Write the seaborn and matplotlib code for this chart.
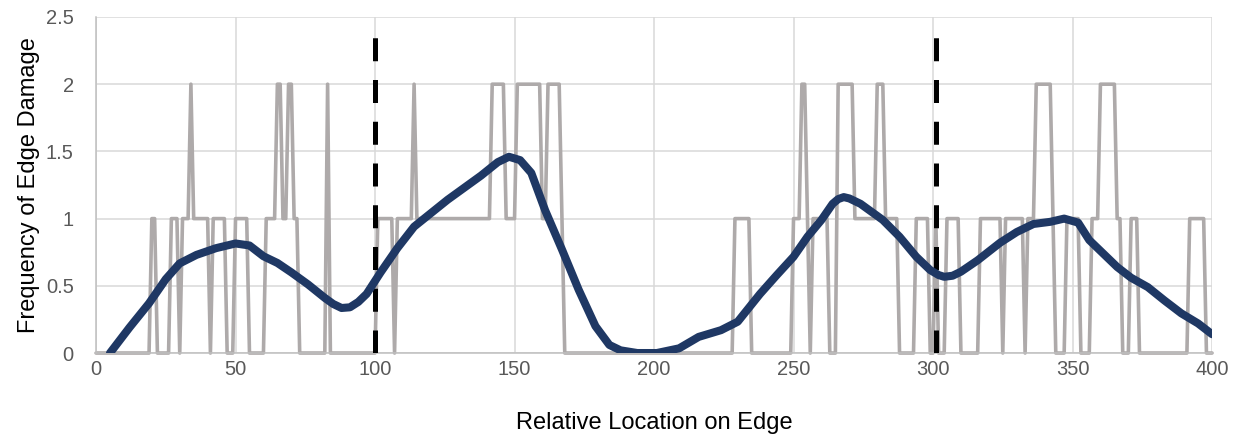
import numpy as np
import pandas as pd
import matplotlib
matplotlib.use("Agg")
import matplotlib.pyplot as plt
import seaborn as sns

# 灰色阶梯线：每个位置（0..400，步长1）的损伤次数，按游程记录
# 每一段从 step_start 开始，取值 step_level，直到下一段开始
step_start = [0, 20, 22, 27, 30, 31, 34, 35, 41, 42, 47, 50, 55, 61, 65, 67, 69, 71, 73,
              83, 84, 101, 107, 108, 114, 115, 142, 147, 151, 160, 162, 167, 168,
              229, 235, 250, 253, 255, 256, 257, 263, 266, 272, 280, 283, 288, 294,
              299, 301, 302, 305, 310, 317, 325, 326, 333, 334, 337, 343, 344, 348,
              353, 357, 360, 366, 368, 371, 374, 392, 398]
step_level = [0, 1, 0, 1, 0, 1, 2, 1, 0, 1, 0, 1, 0, 1, 2, 1, 2, 1, 0,
              2, 0, 1, 0, 1, 2, 1, 2, 1, 2, 1, 2, 1, 0,
              1, 0, 1, 2, 1, 0, 1, 0, 2, 1, 2, 1, 0, 1,
              0, 1, 0, 1, 0, 1, 0, 1, 0, 1, 2, 1, 0, 1,
              0, 1, 2, 1, 0, 1, 0, 1, 0]
edge_end = 400

# 深蓝平滑曲线
smooth_x = [5, 12, 19, 25, 30, 36, 43, 50, 55, 60, 65, 70, 76, 82, 85, 88, 91, 94, 97, 102,
            108, 114, 120, 126, 132, 138, 144, 148, 152, 156, 161, 167, 173, 179, 184, 188,
            194, 201, 209, 216, 224, 230, 238, 244, 250, 255, 260, 264, 266, 268, 270, 274,
            282, 288, 294, 299, 302, 304, 307, 310, 316, 324, 330, 336, 342, 347, 352, 356,
            361, 366, 371, 377, 383, 389, 395, 400]
smooth_y = [0, 0.19, 0.37, 0.55, 0.667, 0.73, 0.78, 0.815, 0.80, 0.72, 0.67, 0.60, 0.51,
            0.41, 0.365, 0.335, 0.34, 0.38, 0.44, 0.60, 0.78, 0.94, 1.04, 1.14, 1.23, 1.32,
            1.42, 1.46, 1.435, 1.34, 1.06, 0.77, 0.47, 0.2, 0.06, 0.02, 0.0, 0.0, 0.035, 0.12,
            0.17, 0.233, 0.44, 0.58, 0.716, 0.865, 0.99, 1.11, 1.145, 1.16, 1.15, 1.11, 0.99,
            0.865, 0.716, 0.617, 0.58, 0.567, 0.575, 0.605, 0.69, 0.82, 0.90, 0.96, 0.976,
            1.0, 0.97, 0.84, 0.74, 0.64, 0.56, 0.49, 0.39, 0.295, 0.22, 0.14]

# 黑色虚线位置
divider_x = [100, 301]
divider_top = 2.37

x_ticks = [0, 50, 100, 150, 200, 250, 300, 350, 400]
y_ticks = [0, 0.5, 1, 1.5, 2, 2.5]
y_tick_labels = ["0", "0.5", "1", "1.5", "2", "2.5"]

# 展开游程
run_len = np.diff(step_start + [edge_end + 1])
step_df = pd.DataFrame({"loc": np.arange(edge_end + 1),
                        "damage": np.repeat(step_level, run_len)})
smooth_df = pd.DataFrame({"loc": smooth_x, "damage": smooth_y})

sns.set_theme(style="white")
plt.rcParams['font.family'] = ['Liberation Sans', 'DejaVu Sans']

fig = plt.figure(figsize=(12.44, 4.41), dpi=100)
ax = fig.add_axes([0.0772, 0.1995, 0.8971, 0.762])

sns.lineplot(data=step_df, x="loc", y="damage", ax=ax, color="#AEAAAA",
             linewidth=2.6, clip_on=False, zorder=2)
for dx in divider_x:
    ax.plot([dx, dx], [0, divider_top], color="black", linewidth=3.6,
            dashes=(4.6, 3.75), zorder=3)
sns.lineplot(data=smooth_df, x="loc", y="damage", ax=ax, color="#1F3864",
             linewidth=5.8, zorder=4, solid_joinstyle="round", solid_capstyle="round")

ax.set_xlim(0, 400)
ax.set_ylim(0, 2.5)
ax.set_xticks(x_ticks)
ax.set_yticks(y_ticks)
ax.set_yticklabels(y_tick_labels)
ax.grid(True, color="#D9D9D9", linewidth=1.1)
ax.set_axisbelow(True)
for s in ["top", "right"]:
    ax.spines[s].set_visible(False)
for s in ["left", "bottom"]:
    ax.spines[s].set_color("#BFBFBF")
    ax.spines[s].set_linewidth(1.1)
ax.tick_params(axis="both", length=0, labelsize=14.5, labelcolor="#595959")
ax.tick_params(axis="y", pad=16)
ax.tick_params(axis="x", pad=5)
ax.set_xlabel("Relative Location on Edge", fontsize=17, color="#000000", labelpad=24)
ax.set_ylabel("Frequency of Edge Damage", fontsize=17, color="#000000", labelpad=4)

fig.savefig("out.png", dpi=100)
